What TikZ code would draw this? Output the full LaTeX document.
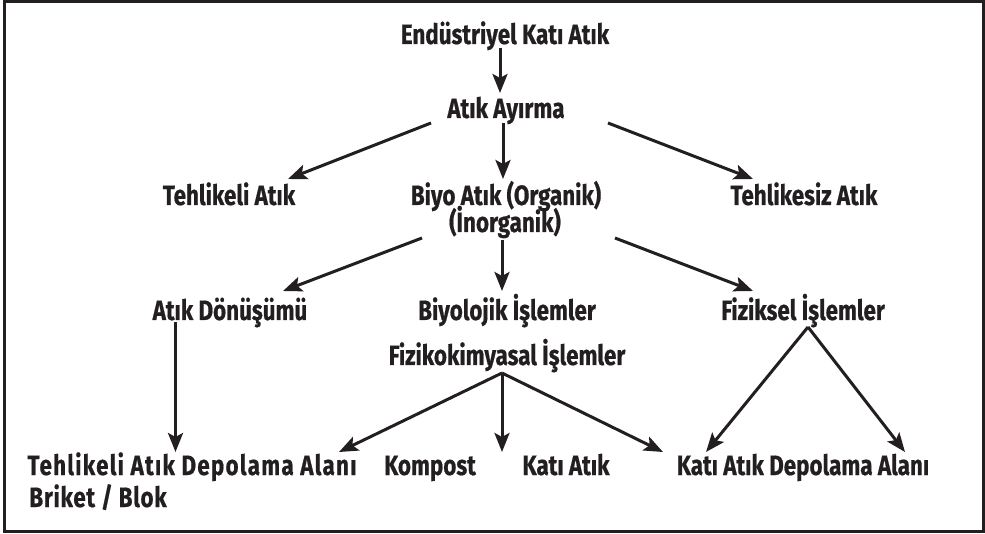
\documentclass[tikz,border=0pt]{standalone}
\usepackage{fontspec}
\setmainfont{Fira Sans}[FakeStretch=0.80, BoldFeatures={FakeBold=0.6}]
\newfontfamily\widefont{Fira Sans}[FakeStretch=0.80, LetterSpace=4.5, BoldFeatures={FakeBold=0.6}]
\newfontfamily\semiwidefont{Fira Sans}[FakeStretch=0.80, LetterSpace=2.5, BoldFeatures={FakeBold=0.6}]
\usetikzlibrary{arrows.meta}
\definecolor{ink}{HTML}{231F20}
\tikzset{
  lbl/.style={anchor=base, inner sep=0pt, text=ink, font=\fontsize{28}{32}\selectfont\bfseries},
  arr/.style={draw=ink, line width=3pt, -{Stealth[length=19pt,width=15pt,inset=4pt]}},
  frame/.style={draw=ink, line width=3pt}
}
\begin{document}
\begin{tikzpicture}[x=1pt,y=-1pt]
\useasboundingbox (0,0) rectangle (985,534);
\draw[frame] (4.5,1.5) rectangle (983.5,531.5);
% nodes
\node[lbl] (end) at (505,44) {Endüstriyel Katı Atık};
\node[lbl] (ayr) at (506,118) {Atık Ayırma};
\node[lbl] (teh) at (229,205) {Tehlikeli Atık};
\node[lbl] (biyo) at (506,205) {Biyo Atık (Organik)};
\node[lbl] (inorg) at (505,232) {(İnorganik)};
\node[lbl] (tehs) at (804,205) {Tehlikesiz Atık};
\node[lbl] (don) at (230,320) {Atık Dönüşümü};
\node[lbl] (biyol) at (507,320) {Biyolojik İşlemler};
\node[lbl] (fiz) at (803,320) {Fiziksel İşlemler};
\node[lbl] (fizk) at (507,365) {Fizikokimyasal İşlemler};
\node[lbl, font=\fontsize{28}{32}\widefont\bfseries] (tda) at (192,475) {Tehlikeli Atık Depolama Alanı};
\node[lbl, font=\fontsize{28}{32}\semiwidefont\bfseries] (brk) at (98,507) {Briket / Blok};
\node[lbl] (komp) at (430,475) {Kompost};
\node[lbl] (kati) at (566,475) {Katı Atık};
\node[lbl] (kda) at (803,475) {Katı Atık Depolama Alanı};
% connector points
\coordinate (a1) at (500,48);
\coordinate (a2) at (500,93);
\coordinate (b0) at (503,123);
\coordinate (bl) at (431,123);
\coordinate (br) at (608,123);
\coordinate (bt1) at (288,179);
\coordinate (bt2) at (503,179);
\coordinate (bt3) at (753,179);
\coordinate (c0) at (502,240);
\coordinate (cl) at (422,238);
\coordinate (cr) at (615,238);
\coordinate (ct1) at (283,291);
\coordinate (ct2) at (502,291);
\coordinate (ct3) at (753,291);
\coordinate (d0) at (175.5,322);
\coordinate (dt) at (175.5,452);
\coordinate (e0) at (502,373);
\coordinate (et1) at (339,452);
\coordinate (et2) at (502,452);
\coordinate (et3) at (663,452);
\coordinate (f0) at (808,327);
\coordinate (ft1) at (706,452);
\coordinate (ft2) at (905,452);
% connectors
\draw[arr] (a1) -- (a2);
\draw[arr] (bl) -- (bt1);
\draw[arr] (b0) -- (bt2);
\draw[arr] (br) -- (bt3);
\draw[arr] (cl) -- (ct1);
\draw[arr] (c0) -- (ct2);
\draw[arr] (cr) -- (ct3);
\draw[arr] (d0) -- (dt);
\draw[arr] (e0) -- (et1);
\draw[arr] (e0) -- (et2);
\draw[arr] (e0) -- (et3);
\draw[arr] (f0) -- (ft1);
\draw[arr] (f0) -- (ft2);
\end{tikzpicture}
\end{document}
